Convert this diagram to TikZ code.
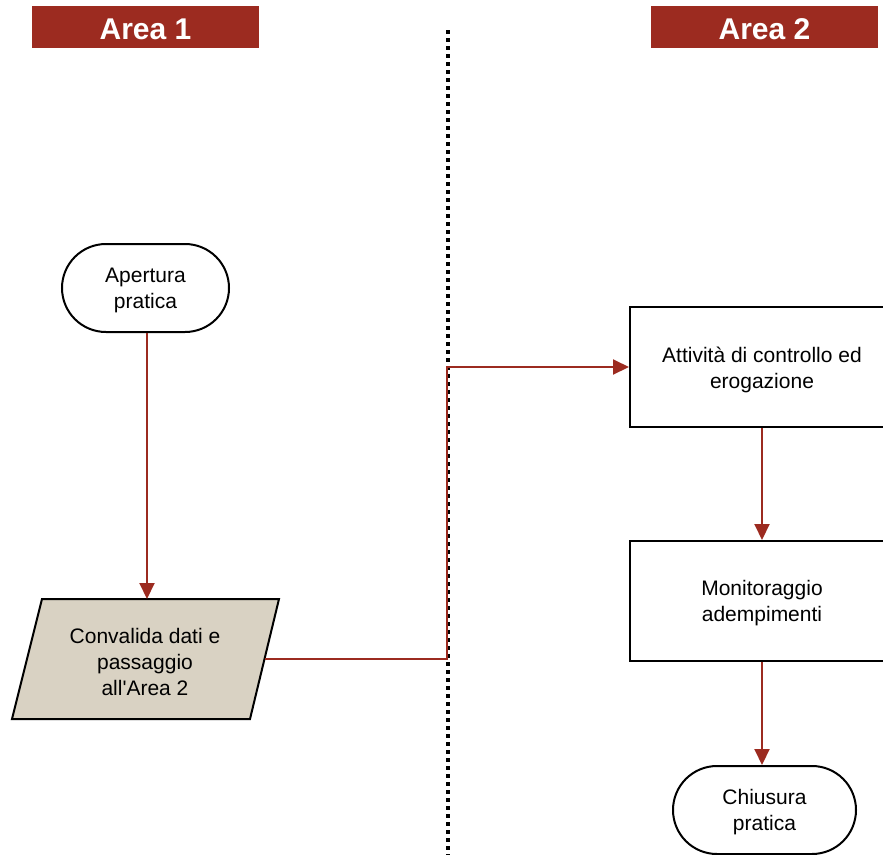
\documentclass[tikz,border=0pt]{standalone}
\usepackage{fontspec}
\setmainfont{Liberation Sans}
\usetikzlibrary{arrows.meta}
\definecolor{brick}{RGB}{156,43,32}
\definecolor{parch}{RGB}{217,210,195}
\begin{document}
\begin{tikzpicture}[x=1pt,y=-1pt,
  txt/.style={font=\fontsize{21}{26}\selectfont,align=center},
  term/.style={draw=black,line width=2pt,rounded corners=44pt,minimum width=167pt,minimum height=88pt,fill=white,inner sep=0pt},
  boxnode/.style={draw=black,line width=2pt,minimum width=264pt,minimum height=120pt,fill=white,inner sep=0pt},
  header/.style={fill=brick,minimum width=227pt,minimum height=42pt,inner sep=0pt},
  htext/.style={text=white,font=\bfseries\fontsize{30}{36}\selectfont,inner sep=0pt},
  flow/.style={draw=brick,line width=2pt,-{Triangle[length=16pt,width=15pt]}}]
\useasboundingbox (0,0) rectangle (883,854);
\clip (0,0) rectangle (883,854);
% headers
\node[header] (h1) at (145.5,27) {};
\node[htext] (h1t) at ([yshift=-2pt]h1.center) {Area 1};
\node[header] (h2) at (764.5,27) {};
\node[htext] (h2t) at ([yshift=-2pt]h2.center) {Area 2};
% divider
\coordinate (dtop) at (448,30);
\coordinate (dbot) at (448,858);
\draw[line width=4pt,dash pattern=on 4pt off 4pt] (dtop) -- (dbot);
% nodes
\node[term] (ap) at (145.5,288) {};
\node[txt] (apt) at ([yshift=-2pt]ap.center) {Apertura\\pratica};
\filldraw[fill=parch,draw=black,line width=2pt,line join=miter] (42,599) -- (279,599) -- (250,719) -- (12,719) -- cycle;
\node[txt] (conv) at (145,662) {Convalida dati e\\passaggio\\all\textquotesingle Area 2};
\coordinate (convTop) at (147,599);
\coordinate (convR) at (264.5,659);
\node[boxnode] (att) at (762,367) {};
\node[txt] (attt) at ([yshift=-3pt]att.center) {Attività di controllo ed\\erogazione};
\node[boxnode] (mon) at (762,601) {};
\node[txt] (mont) at ([yshift=-2pt]mon.center) {Monitoraggio\\adempimenti};
\node[term,minimum width=183pt] (chi) at (764.5,810) {};
\node[txt] (chit) at ([yshift=-2pt]chi.center) {Chiusura\\pratica};
% connectors
\draw[flow] (ap.south -| convTop) -- (convTop);
\coordinate (bend) at (447,659);
\draw[flow] (convR) -- (bend) |- (att.west);
\draw[flow] (att.south) -- (mon.north);
\draw[flow] (mon.south) -- (mon.south |- chi.north);
\end{tikzpicture}
\end{document}
